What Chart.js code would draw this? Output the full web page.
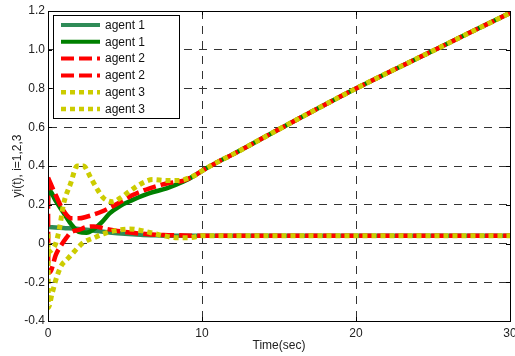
<!DOCTYPE html>
<html lang="en">
  <head>
    <meta charset="UTF-8" />
    <title>yi(t) agents</title>
    <style>
      body {
        margin: 0;
        background: #fff;
      }
      canvas {
        display: block;
      }
    </style>
    <script src="https://cdn.jsdelivr.net/npm/chart.js"></script>
  </head>
  <body>
    <canvas id="agentChart" width="515" height="356"></canvas>
    <script>
      // values
      const legendLabels = ["agent 1", "agent 1", "agent 2", "agent 2", "agent 3", "agent 3"];
      const xTicks = [0, 10, 20, 30];
      const yTicks = [-0.4, -0.2, 0, 0.2, 0.4, 0.6, 0.8, 1, 1.2];

      const agent1aT = [0, 1, 2, 3, 4, 5, 6, 7, 8, 10, 15, 20, 25, 30];
      const agent1aY = [0.085, 0.08, 0.075, 0.066, 0.057, 0.05, 0.045, 0.042, 0.04, 0.04, 0.04, 0.04, 0.04, 0.04];

      const agent1bT = [0, 0.03, 0.5, 1, 1.5, 2, 2.5, 3, 3.5, 4, 4.7, 5.5, 6.6, 7.7, 8.8, 9.5, 10, 11, 12, 15, 20, 25, 30];
      const agent1bY = [0.2, 0.28, 0.22, 0.16, 0.1, 0.06, 0.055, 0.075, 0.11, 0.155, 0.195, 0.225, 0.26, 0.285, 0.32, 0.35, 0.375, 0.42, 0.46, 0.59, 0.8, 0.995, 1.19];

      const agent2aT = [0, 0.5, 1, 1.5, 2, 2.5, 3, 3.5, 4.5, 5.5, 6.6, 7.7, 8.8, 9.5, 10, 11, 12, 15, 20, 25, 30];
      const agent2aY = [0.34, 0.25, 0.17, 0.13, 0.13, 0.138, 0.15, 0.165, 0.205, 0.25, 0.285, 0.31, 0.325, 0.35, 0.375, 0.42, 0.46, 0.59, 0.8, 0.995, 1.19];

      const agent2bT = [0, 0.02, 0.2, 0.5, 0.85, 1.2, 1.5, 2, 2.5, 3, 3.8, 4.5, 5.5, 6.5, 7.5, 8.5, 10, 15, 20, 25, 30];
      const agent2bY = [0.34, -0.15, -0.14, -0.06, -0.01, 0.03, 0.058, 0.07, 0.085, 0.088, 0.075, 0.065, 0.055, 0.048, 0.044, 0.042, 0.04, 0.04, 0.04, 0.04, 0.04];

      const agent3aT = [0, 0.5, 0.75, 1, 1.47, 1.9, 2.3, 2.77, 3.2, 3.6, 4.2, 4.7, 5.3, 6.2, 6.8, 7.7, 8.5, 9.2, 9.6, 10, 11, 12, 15, 20, 25, 30];
      const agent3aY = [-0.05, 0.0, 0.08, 0.2, 0.31, 0.4, 0.4, 0.34, 0.28, 0.235, 0.215, 0.235, 0.27, 0.315, 0.33, 0.325, 0.325, 0.34, 0.355, 0.375, 0.42, 0.46, 0.59, 0.8, 0.995, 1.19];

      const agent3bT = [0, 0.02, 0.26, 0.58, 0.9, 1.2, 1.5, 1.9, 2.3, 3, 3.6, 4.3, 5.3, 6.6, 7.5, 8.4, 9.2, 10, 12, 15, 20, 25, 30];
      const agent3bY = [0.05, -0.33, -0.26, -0.17, -0.11, -0.085, -0.06, -0.025, 0.005, 0.03, 0.05, 0.065, 0.075, 0.057, 0.04, 0.03, 0.03, 0.04, 0.04, 0.04, 0.04, 0.04, 0.04];

      const FONT = '"Liberation Sans", Arial, sans-serif';

      function points(ts, ys) {
        return ts.map((t, i) => ({ x: t, y: ys[i] }));
      }

      function series(label, ts, ys, color, dash, width, order) {
        return {
          label: label,
          data: points(ts, ys),
          borderColor: color,
          backgroundColor: color,
          borderWidth: width,
          borderDash: dash,
          borderCapStyle: "butt",
          pointRadius: 0,
          fill: false,
          cubicInterpolationMode: "monotone",
          order: order,
        };
      }

      // box, inner tick marks (matlab style)
      const frame = {
        id: "frame",
        afterDatasetsDraw(chart) {
          const { ctx, chartArea: a, scales } = chart;
          ctx.save();
          ctx.strokeStyle = "#000";
          ctx.lineWidth = 1;
          ctx.beginPath();
          ctx.rect(Math.round(a.left) + 0.5, Math.round(a.top) + 0.5,
            Math.round(a.right - a.left), Math.round(a.bottom - a.top));
          ctx.stroke();
          ctx.beginPath();
          yTicks.forEach((v) => {
            const y = Math.round(scales.y.getPixelForValue(v)) + 0.5;
            ctx.moveTo(a.left, y); ctx.lineTo(a.left + 4, y);
            ctx.moveTo(a.right, y); ctx.lineTo(a.right - 4, y);
          });
          xTicks.forEach((v) => {
            const x = Math.round(scales.x.getPixelForValue(v)) + 0.5;
            ctx.moveTo(x, a.bottom); ctx.lineTo(x, a.bottom - 4);
            ctx.moveTo(x, a.top); ctx.lineTo(x, a.top + 4);
          });
          ctx.stroke();
          ctx.restore();
        },
      };

      // legend box in the upper left corner of the plot
      const legendBox = {
        id: "legendBox",
        afterDatasetsDraw(chart) {
          const ctx = chart.ctx;
          const left = 53.5, top = 15.5, w = 126, h = 103;
          ctx.save();
          ctx.fillStyle = "#fff";
          ctx.fillRect(left, top, w, h);
          ctx.strokeStyle = "#000";
          ctx.lineWidth = 1;
          ctx.strokeRect(left, top, w, h);
          ctx.font = "12px " + FONT;
          ctx.textBaseline = "middle";
          chart.data.datasets.forEach((ds, i) => {
            const y = 25 + i * 16.8;
            ctx.beginPath();
            ctx.strokeStyle = ds.borderColor;
            ctx.lineWidth = ds.borderWidth - 0.5;
            ctx.lineCap = "butt";
            ctx.setLineDash(ds.borderDash);
            ctx.moveTo(61, y);
            ctx.lineTo(100, y);
            ctx.stroke();
            ctx.setLineDash([]);
            ctx.fillStyle = "#111";
            ctx.fillText(ds.label, 105, y + 0.5);
          });
          ctx.restore();
        },
      };

      new Chart(document.getElementById("agentChart").getContext("2d"), {
        type: "line",
        data: {
          datasets: [
            series(legendLabels[0], agent1aT, agent1aY, "#2e8b57", [], 4.5, 6),
            series(legendLabels[1], agent1bT, agent1bY, "#008000", [], 4.5, 5),
            series(legendLabels[2], agent2aT, agent2aY, "#ff0000", [13, 5], 4.5, 4),
            series(legendLabels[3], agent2bT, agent2bY, "#ff0000", [13, 5], 4.5, 3),
            series(legendLabels[4], agent3aT, agent3aY, "#cccc00", [5, 4], 5, 2),
            series(legendLabels[5], agent3bT, agent3bY, "#cccc00", [5, 4], 5, 1),
          ],
        },
        options: {
          responsive: false,
          animation: false,
          layout: { padding: { top: 11, right: 5, left: 0, bottom: 0 } },
          plugins: {
            legend: { display: false },
            tooltip: { enabled: false },
          },
          scales: {
            x: {
              type: "linear",
              min: 0,
              max: 30,
              afterBuildTicks: (s) => { s.ticks = xTicks.map((v) => ({ value: v })); },
              afterFit: (s) => { s.height = 35; s.paddingLeft = 0; s.paddingRight = 0; },
              ticks: { padding: 5, color: "#222", font: { family: FONT, size: 12 } },
              grid: { color: "#333", lineWidth: 1, drawTicks: false },
              border: { display: true, color: "#000", width: 1, dash: [8, 7] },
              title: {
                display: true,
                text: "Time(sec)",
                color: "#222",
                font: { family: FONT, size: 12 },
                padding: { top: 0, bottom: 3 },
              },
            },
            y: {
              min: -0.4,
              max: 1.2,
              afterBuildTicks: (s) => { s.ticks = yTicks.map((v) => ({ value: v })); },
              afterFit: (s) => { s.width = 48; s.paddingTop = 0; s.paddingBottom = 0; },
              ticks: { padding: 3, color: "#222", font: { family: FONT, size: 12 } },
              grid: { color: "#333", lineWidth: 1, drawTicks: false },
              border: { display: true, color: "#000", width: 1, dash: [8, 7] },
              title: {
                display: true,
                text: "yi(t), i=1,2,3",
                color: "#222",
                font: { family: FONT, size: 12 },
                padding: { top: 10, bottom: 0 },
              },
            },
          },
        },
        plugins: [frame, legendBox],
      });
    </script>
  </body>
</html>
